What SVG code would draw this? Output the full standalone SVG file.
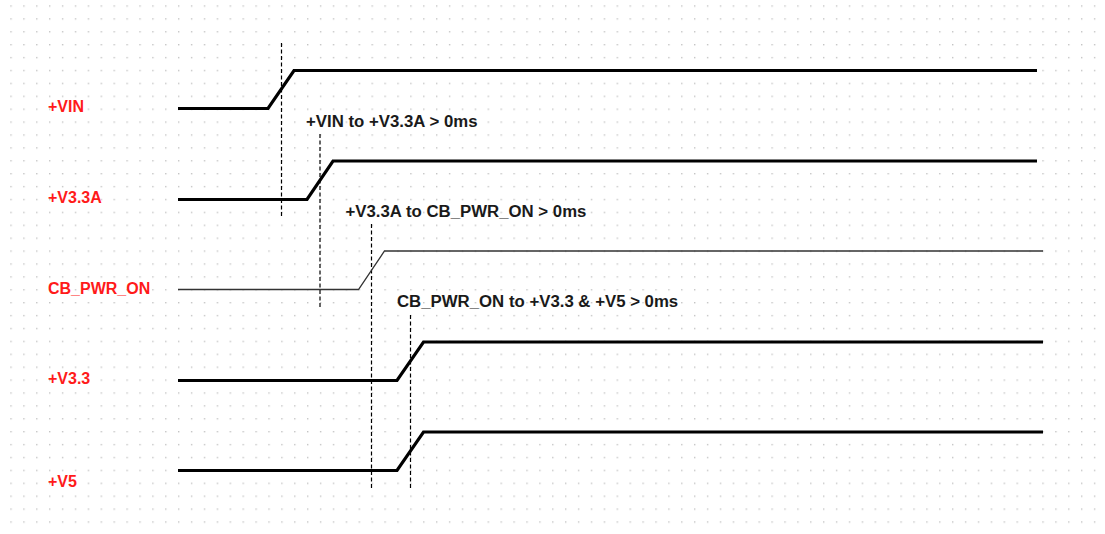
<svg xmlns="http://www.w3.org/2000/svg" width="1105" height="534" viewBox="0 0 1105 534">
<style>
.sig{fill:none;stroke:#000;stroke-width:3.2;stroke-linejoin:miter;stroke-linecap:butt}
.thin{fill:none;stroke:#333;stroke-width:1.3}
.dash{fill:none;stroke:#000;stroke-width:1.2;stroke-dasharray:4 2.5}
.lbl{font-family:"Liberation Sans",Arial,sans-serif;font-weight:bold;font-size:16px;fill:#ff1a1a}
.ann{font-family:"Liberation Sans",Arial,sans-serif;font-weight:bold;font-size:16.8px;fill:#1a1a1a}
</style>
<defs>
<pattern id="grid" patternUnits="userSpaceOnUse" x="10.3" y="5.3" width="12.9" height="12.9">
<rect x="0" y="0" width="1.4" height="1.4" fill="#c4c4c4"/>
</pattern>
</defs>
<rect width="1105" height="534" fill="#fff"/>
<rect width="1105" height="534" fill="url(#grid)"/>
<g id="connectors">
<line class="dash" x1="281.5" y1="43" x2="281.5" y2="218"/>
<line class="dash" x1="320" y1="134" x2="320" y2="308"/>
<line class="dash" x1="371.5" y1="224" x2="371.5" y2="489"/>
<line class="dash" x1="410.5" y1="315" x2="410.5" y2="489"/>
</g>
<g id="VIN">
<text class="lbl" x="48" y="111.5">+VIN</text>
<polyline class="sig" points="178,108.5 268,108.5 294,70.5 1037,70.5"/>
</g>
<g id="V3_3A">
<text class="lbl" x="48" y="203">+V3.3A</text>
<polyline class="sig" points="178,199.5 307,199.5 333,161 1037,161"/>
</g>
<g id="CB_PWR_ON">
<text class="lbl" x="48" y="294">CB_PWR_ON</text>
<polyline class="thin" points="178,289.5 358.5,289.5 384.5,251 1043,251"/>
</g>
<g id="V3_3">
<text class="lbl" x="48" y="384">+V3.3</text>
<polyline class="sig" points="178,380.5 397,380.5 423.5,342 1043,342"/>
</g>
<g id="V5">
<text class="lbl" x="48" y="487">+V5</text>
<polyline class="sig" points="178,470.5 397,470.5 423.5,432 1043,432"/>
</g>
<g id="annotations">
<text class="ann" x="306" y="126.5">+VIN to +V3.3A &gt; 0ms</text>
<text class="ann" x="345.5" y="216.5">+V3.3A to CB_PWR_ON &gt; 0ms</text>
<text class="ann" x="397" y="307">CB_PWR_ON to +V3.3 &amp; +V5 &gt; 0ms</text>
</g>
</svg>
